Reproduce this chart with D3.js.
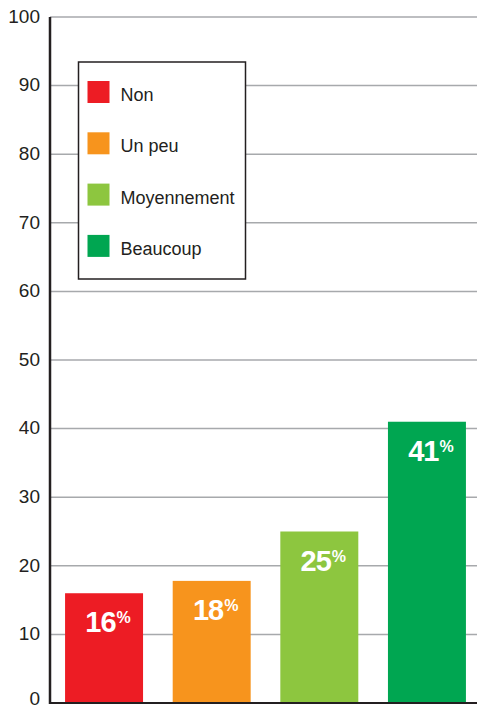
<!DOCTYPE html>
<html>
<head>
<meta charset="utf-8">
<script src="https://cdn.jsdelivr.net/npm/d3@7"></script>
<style>
	body { margin: 0; background: #fff; }
	svg { display: block; }
	.tick-label { font-family: "Liberation Sans", Arial, sans-serif; font-size: 19px; fill: #231f20; }
	.legend-label { font-family: "Liberation Sans", Arial, sans-serif; font-size: 18px; fill: #231f20; }
	.bar-label { font-family: "Liberation Sans", Arial, sans-serif; font-weight: bold; fill: #fff; }
</style>
</head>
<body>
<div id="chart"></div>
<script>
'use strict'

const categories = ["Non", "Un peu", "Moyennement", "Beaucoup"]
const values = [16, 17.8, 25, 41]
const valueLabels = ["16", "18", "25", "41"]
const colors = ["#ed1c24", "#f7941d", "#8dc63f", "#00a651"]
const yTicks = [0, 10, 20, 30, 40, 50, 60, 70, 80, 90, 100]

const width = 477
const height = 711

const svg = d3.select("#chart").append("svg")
	.attr("width", width)
	.attr("height", height)

let y = d3.scaleLinear().domain([0, 100]).range([703, 17])
let x = d3.scaleBand()
	.domain(categories)
	.range([50, 481])
	.paddingInner(0.2755)
	.paddingOuter(0.14)

// grid lines
svg.append("g")
	.selectAll("line")
	.data(yTicks.filter(d => d > 0))
	.join("line")
	.attr("x1", 50)
	.attr("x2", width)
	.attr("y1", d => y(d))
	.attr("y2", d => y(d))
	.attr("stroke", "#a7a9ac")
	.attr("stroke-width", 1.5)

// tick labels (the 0 sits on the bottom edge, nudge it up a little)
svg.append("g")
	.selectAll("text")
	.data(yTicks)
	.join("text")
	.attr("class", "tick-label")
	.attr("x", 40)
	.attr("y", d => y(d))
	.attr("dy", d => d === 0 ? "0.12em" : "0.3em")
	.attr("text-anchor", "end")
	.text(d => d)

// bars
svg.append("g")
	.selectAll("rect")
	.data(categories)
	.join("rect")
	.attr("x", d => x(d))
	.attr("width", x.bandwidth())
	.attr("y", (d, i) => y(values[i]))
	.attr("height", (d, i) => y(0) - y(values[i]))
	.attr("fill", (d, i) => colors[i])

let labels = svg.append("g")
	.selectAll("text")
	.data(categories)
	.join("text")
	.attr("class", "bar-label")
	.attr("x", d => x(d) + x.bandwidth() / 2 + 4)
	.attr("y", (d, i) => y(values[i]) + 39)
	.attr("text-anchor", "middle")
labels.append("tspan")
	.style("font-size", "29px")
	.attr("letter-spacing", "-1")
	.text((d, i) => valueLabels[i])
labels.append("tspan")
	.style("font-size", "16px")
	.attr("dy", -9)
	.attr("dx", 1)
	.text("%")

// axis lines
svg.append("line")
	.attr("x1", 50).attr("x2", width)
	.attr("y1", y(0)).attr("y2", y(0))
	.attr("stroke", "#231f20")
	.attr("stroke-width", 2)
svg.append("line")
	.attr("x1", 50).attr("x2", 50)
	.attr("y1", y(100)).attr("y2", y(0) + 1)
	.attr("stroke", "#231f20")
	.attr("stroke-width", 2.5)

// legend
let legend = svg.append("g").attr("transform", "translate(78.5,62)")
legend.append("rect")
	.attr("width", 167)
	.attr("height", 217)
	.attr("fill", "#fff")
	.attr("stroke", "#231f20")
	.attr("stroke-width", 1.5)

let items = legend.selectAll("g.item")
	.data(categories)
	.join("g")
	.attr("class", "item")
	.attr("transform", (d, i) => "translate(9," + (19 + i * 51.3) + ")")
items.append("rect")
	.attr("width", 22)
	.attr("height", 22)
	.attr("fill", (d, i) => colors[i])
items.append("text")
	.attr("class", "legend-label")
	.attr("x", 33)
	.attr("y", 20)
	.text(d => d)
</script>
</body>
</html>
